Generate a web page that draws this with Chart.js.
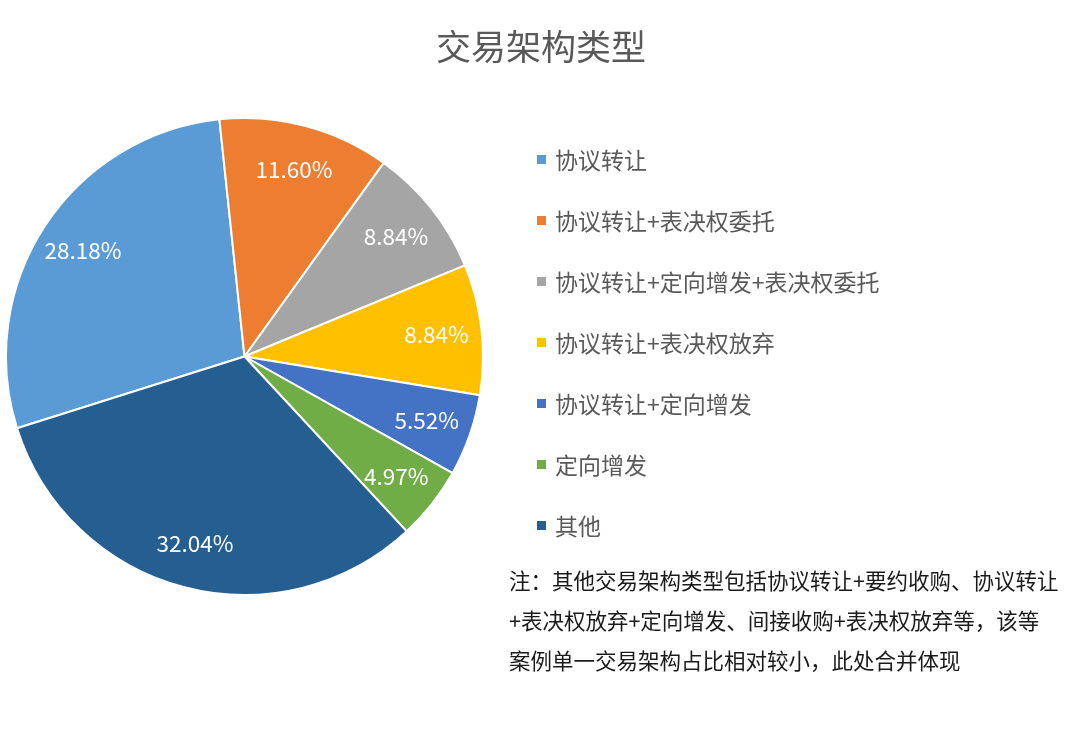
<!DOCTYPE html>
<html>
<head>
<meta charset="utf-8">
<script src="https://cdn.jsdelivr.net/npm/chart.js@4.4.0/dist/chart.umd.min.js"></script>
<style>
  html, body { margin: 0; padding: 0; background: #fff; }
  #wrap { width: 1080px; height: 735px; position: relative; }
</style>
</head>
<body>
<div id="wrap"><canvas id="structChart" width="1080" height="735"></canvas></div>
<script>
// 交易架构类型 数据
const labels = ['协议转让', '协议转让+表决权委托', '协议转让+定向增发+表决权委托', '协议转让+表决权放弃', '协议转让+定向增发', '定向增发', '其他'];
const values = [28.18, 11.60, 8.84, 8.84, 5.52, 4.97, 32.04];
const colors = ['#5B9BD5', '#ED7D31', '#A5A5A5', '#FFC000', '#4472C4', '#70AD47', '#255E91'];
const noteLines = [
    '注：其他交易架构类型包括协议转让+要约收购、协议转让',
    '+表决权放弃+定向增发、间接收购+表决权放弃等，该等',
    '案例单一交易架构占比相对较小，此处合并体现'
];

const FONT = "'Noto Sans CJK SC', 'Noto Sans', sans-serif";

// 扇区内的百分比标签
const sliceLabels = {
    id: 'sliceLabels',
    afterDatasetsDraw(chart) {
        const c = chart.ctx;
        const meta = chart.getDatasetMeta(0);
        c.save();
        c.fillStyle = '#fff';
        c.font = '22.5px ' + FONT;
        c.textAlign = 'center';
        c.textBaseline = 'middle';
        meta.data.forEach((arc, i) => {
            const mid = (arc.startAngle + arc.endAngle) / 2;
            const r = arc.outerRadius * 0.81;
            c.fillText(values[i].toFixed(2) + '%', arc.x + Math.cos(mid) * r, arc.y + Math.sin(mid) * r);
        });
        c.restore();
    }
};

// 标题、图例和注释
const sideText = {
    id: 'sideText',
    afterDraw(chart) {
        const c = chart.ctx;
        c.save();
        c.fillStyle = '#595959';
        c.font = '35px ' + FONT;
        c.textAlign = 'center';
        c.textBaseline = 'middle';
        c.fillText('交易架构类型', 541, 47);

        c.textAlign = 'left';
        c.font = '23px ' + FONT;
        labels.forEach((lab, i) => {
            const y = 160 + i * 61;
            c.fillStyle = colors[i];
            c.fillRect(537, y - 5, 9, 9);
            c.fillStyle = '#595959';
            c.fillText(lab, 555, y);
        });

        c.fillStyle = '#1a1a1a';
        c.font = '21.5px ' + FONT;
        noteLines.forEach((line, i) => {
            c.fillText(line, 509, 581 + i * 40);
        });
        c.restore();
    }
};

const ctx = document.getElementById('structChart').getContext('2d');
const pieChart = new Chart(ctx, {
    type: 'pie',
    data: {
        labels: labels,
        datasets: [{
            data: values,
            backgroundColor: colors,
            borderColor: '#fff',
            borderWidth: 2
        }]
    },
    options: {
        responsive: false,
        animation: false,
        rotation: -107.5,
        layout: {
            padding: { left: 5, top: 117, right: 596, bottom: 139 }
        },
        plugins: {
            legend: { display: false },
            tooltip: { enabled: false },
            title: { display: false }
        }
    },
    plugins: [sliceLabels, sideText]
});
</script>
</body>
</html>
